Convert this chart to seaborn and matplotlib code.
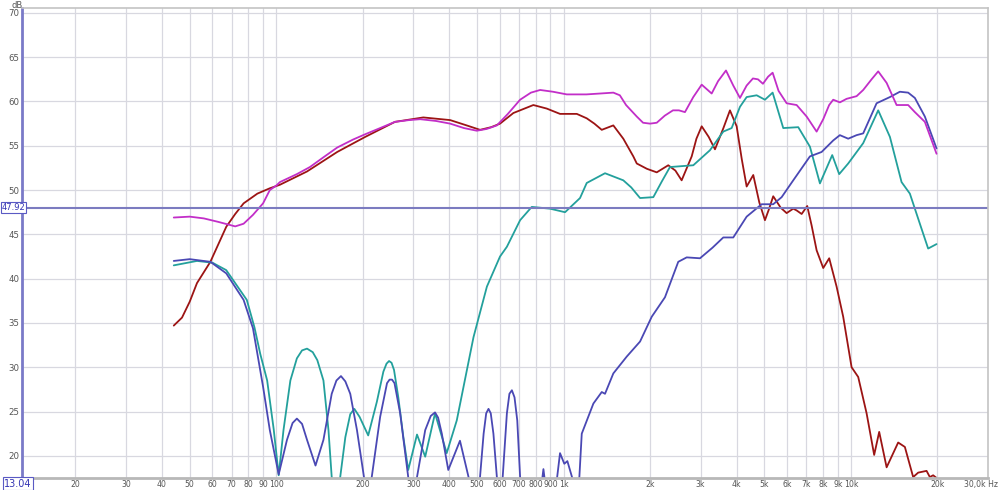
import numpy as np
import pandas as pd
import matplotlib
matplotlib.use('Agg')
import matplotlib.pyplot as plt
import matplotlib.transforms as mtransforms
from matplotlib.ticker import FixedLocator, NullLocator
import seaborn as sns

# Frequency (Hz) and level (dB) per curve
sum_f = [44, 50, 56, 63, 72, 77, 83, 90, 95, 100, 103, 118, 131, 146, 163, 185, 204, 230, 259, 290,
         317, 360, 403, 450, 499, 540, 586, 640, 706, 770, 829, 919, 1026, 1200, 1340, 1490, 1570, 1650,
         1798, 1891, 2000, 2110, 2250, 2403, 2520, 2645, 2828, 3025, 3277, 3450, 3675, 3896, 4111, 4337,
         4561, 4750, 4942, 5150, 5341, 5600, 5975, 6474, 7014, 7598, 8011, 8400, 8678, 9155, 9661,
         10466, 11036, 11800, 12446, 13314, 14421, 15823, 16695, 18088, 19862]
sum_db = [46.9, 47.0, 46.8, 46.4, 45.9, 46.2, 47.2, 48.5, 50.0, 50.5, 50.9, 51.8, 52.6, 53.7, 54.8, 55.7,
          56.3, 57.0, 57.7, 57.9, 58.0, 57.8, 57.5, 57.0, 56.7, 56.9, 57.3, 58.6, 60.2, 61.0, 61.3, 61.1,
          60.8, 60.8, 60.9, 61.0, 60.7, 59.6, 58.3, 57.6, 57.5, 57.6, 58.4, 59.0, 59.0, 58.8, 60.5, 61.9,
          60.9, 62.3, 63.5, 61.8, 60.4, 61.8, 62.6, 62.5, 62.0, 62.8, 63.25, 61.2, 59.8, 59.6, 58.3, 56.6,
          58.0, 59.6, 60.2, 59.9, 60.3, 60.6, 61.3, 62.5, 63.4, 62.1, 59.6, 59.6, 58.8, 57.7, 54.1]

woofer_f = [44, 47, 50, 53, 59, 67, 72, 77, 86, 95, 103, 128, 163, 204, 259, 325, 403, 460, 512, 560,
            601, 669, 785, 874, 972, 1112, 1204, 1280, 1358, 1490, 1614, 1749, 1798, 1950, 2110, 2314,
            2450, 2576, 2792, 2900, 3025, 3200, 3365, 3600, 3794, 4003, 4170, 4337, 4573, 4800, 5022,
            5180, 5366, 5700, 5975, 6300, 6474, 6739, 7047, 7300, 7598, 8011, 8404, 8917, 9401, 10055,
            10602, 11340, 12050, 12545, 13314, 14605, 15410, 16470, 17143, 18336, 18826, 19330, 19862]
woofer_db = [34.7, 35.6, 37.4, 39.5, 41.9, 45.85, 47.3, 48.5, 49.6, 50.2, 50.6, 52.1, 54.3, 56.0, 57.7,
             58.2, 57.9, 57.3, 56.8, 57.1, 57.5, 58.7, 59.6, 59.2, 58.6, 58.6, 58.1, 57.5, 56.8, 57.3,
             55.8, 53.8, 53.0, 52.4, 52.0, 52.8, 52.2, 51.1, 53.8, 55.8, 57.2, 56.0, 54.6, 57.0, 59.0,
             57.2, 53.5, 50.4, 51.7, 48.6, 46.6, 47.8, 49.3, 48.0, 47.4, 47.9, 47.7, 47.3, 48.2, 46.0,
             43.2, 41.2, 42.3, 39.1, 35.7, 30.0, 28.9, 24.8, 20.1, 22.7, 18.7, 21.5, 21.0, 17.6, 18.1,
             18.3, 17.6, 17.8, 17.5]

mid_f = [44, 53, 60, 67, 79, 84, 88, 93, 98, 102, 106, 112, 118, 123, 128, 134, 139, 146, 152, 156,
         162, 167, 174, 181, 187, 195, 209, 224, 236, 242, 247, 252, 257, 266, 277, 288, 309, 330, 357,
         392, 425, 461, 486, 541, 601, 635, 706, 775, 897, 1012, 1141, 1204, 1394, 1614, 1720, 1846,
         2053, 2200, 2346, 2828, 3233, 3596, 3846, 4111, 4337, 4699, 5022, 5341, 5815, 6558, 7201,
         7802, 8610, 9104, 9786, 11036, 12446, 13671, 15007, 16040, 17378, 18570, 19862]
mid_db = [41.5, 42.0, 41.8, 40.96, 37.6, 34.5, 31.5, 28.5, 23.0, 17.8, 22.9, 28.5, 31.0, 31.9, 32.1,
          31.7, 30.8, 28.5, 22.9, 17.6, 12.0, 17.6, 22.1, 24.7, 25.3, 24.4, 22.3, 26.1, 29.5, 30.4,
          30.7, 30.5, 29.7, 26.6, 22.1, 18.4, 22.4, 19.9, 24.8, 20.3, 24.0, 29.7, 33.4, 39.1, 42.5,
          43.6, 46.6, 48.1, 47.9, 47.5, 49.1, 50.8, 51.9, 51.1, 50.3, 49.1, 49.2, 51.0, 52.6, 52.8,
          54.5, 56.6, 57.0, 59.4, 60.5, 60.7, 60.2, 61.0, 57.0, 57.1, 54.9, 50.75, 53.95, 51.8, 53.0,
          55.3, 59.0, 56.0, 50.9, 49.6, 46.2, 43.4, 43.9]

tweeter_f = [44, 50, 59, 67, 77, 83, 90, 95, 102, 109, 114, 118, 123, 128, 137, 146, 156, 162, 168,
             174, 181, 191, 202, 208, 215, 230, 243, 248, 253, 258, 270, 288, 298, 309, 330, 345, 357,
             366, 377, 397, 436, 467, 488, 512, 527, 538, 548, 558, 570, 586, 600, 614, 635, 648, 661,
             675, 690, 706, 780, 840, 851, 862, 905, 950, 972, 1006, 1031, 1070, 1112, 1135, 1157,
             1270, 1358, 1394, 1490, 1659, 1846, 2027, 2254, 2507, 2682, 2984, 3300, 3596, 3896, 4337,
             4891, 5366, 5741, 6300, 7201, 7908, 8678, 9155, 9786, 10466, 11036, 12286, 13671, 14804,
             15823, 16695, 18088, 19862]
tweeter_db = [42.0, 42.2, 41.9, 40.6, 37.6, 34.4, 27.8, 22.9, 17.9, 21.8, 23.7, 24.2, 23.6, 21.8, 18.9,
              21.8, 27.0, 28.5, 29.0, 28.4, 27.0, 22.9, 17.6, 12.0, 17.6, 24.4, 28.2, 28.6, 28.6, 28.2,
              24.8, 17.6, 12.0, 17.6, 22.9, 24.5, 24.9, 24.3, 22.5, 18.4, 21.7, 17.6, 12.0, 17.6, 22.5,
              24.8, 25.3, 24.8, 22.5, 17.6, 12.0, 17.6, 24.8, 27.0, 27.4, 26.6, 24.0, 17.6, 10.0, 17.0,
              18.5, 17.0, 10.0, 17.6, 20.3, 19.1, 19.4, 17.6, 15.0, 17.6, 22.5, 25.9, 27.2, 27.0, 29.3,
              31.2, 32.9, 35.7, 37.9, 41.9, 42.4, 42.3, 43.5, 44.65, 44.65, 47.0, 48.4, 48.4, 49.2, 51.1,
              53.8, 54.3, 55.6, 56.2, 55.8, 56.2, 56.4, 59.8, 60.5, 61.1, 61.0, 60.4, 58.3, 54.7]

x_ticks = [20, 30, 40, 50, 60, 70, 80, 90, 100, 200, 300, 400, 500, 600, 700, 800, 900,
           1000, 2000, 3000, 4000, 5000, 6000, 7000, 8000, 9000, 10000, 20000, 30000]
x_labels = ['20', '30', '40', '50', '60', '70', '80', '90', '100', '200', '300', '400', '500', '600',
            '700', '800', '900', '1k', '2k', '3k', '4k', '5k', '6k', '7k', '8k', '9k', '10k', '20k',
            '30,0k Hz']
y_ticks = [20, 25, 30, 35, 40, 45, 50, 55, 60, 65, 70]
cursor_x = 13.04
cursor_y = 47.92

sns.set_style('white')
plt.rcParams['font.family'] = ['DejaVu Sans']

fig = plt.figure(figsize=(10, 4.9), dpi=100)
ax = fig.add_axes([0.022, 0.0255, 0.966, 0.959])

curves = [
    (woofer_f, woofer_db, '#9c1414'),
    (mid_f, mid_db, '#23a09c'),
    (tweeter_f, tweeter_db, '#4a48b4'),
    (sum_f, sum_db, '#c22ec8'),
]
for f, db, col in curves:
    df = pd.DataFrame({'Hz': f, 'dB': db})
    sns.lineplot(data=df, x='Hz', y='dB', ax=ax, color=col, lw=1.3,
                 sort=False, estimator=None, legend=False)

ax.set_xscale('log')
ax.set_xlim(cursor_x, 30000)
ax.set_ylim(17.55, 70.6)
ax.xaxis.set_major_locator(FixedLocator(x_ticks))
ax.xaxis.set_minor_locator(NullLocator())
ax.set_xticklabels(x_labels)
ax.set_yticks(y_ticks)
ax.set_yticklabels([str(v) for v in y_ticks])
ax.set_xlabel('')
ax.set_ylabel('')
ax.grid(True, color='#d8d8e0', lw=0.9)
ax.set_axisbelow(True)
ax.tick_params(length=0, colors='#555555', pad=2)
ax.tick_params(axis='x', labelsize=5.6)
ax.tick_params(axis='y', labelsize=6.2)

# last x label sits left of the right edge
last = ax.get_xticklabels()[-1]
last.set_horizontalalignment('right')
last.set_transform(last.get_transform() + mtransforms.ScaledTranslation(0.1, 0, fig.dpi_scale_trans))

for side in ['top', 'right']:
    ax.spines[side].set_color('#c4c4c4')
    ax.spines[side].set_linewidth(1.2)
ax.spines['bottom'].set_color('#b8b8b8')
ax.spines['bottom'].set_linewidth(2)
ax.spines['left'].set_color('#7a7ac8')
ax.spines['left'].set_linewidth(2)

# cursor line and its readouts
ax.axhline(cursor_y, color='#7b7bc0', lw=1.5)
fig.text(0.0015, (490 - 208) / 490, f'{cursor_y:.2f}', fontsize=6.0, color='#3434b4',
         ha='left', va='center',
         bbox=dict(boxstyle='square,pad=0.12', fc='white', ec='#5a5ac4', lw=0.8))
fig.text(0.004, (490 - 483.5) / 490, f'{cursor_x:.2f}', fontsize=7.0, color='#3434b4',
         ha='left', va='center',
         bbox=dict(boxstyle='square,pad=0.12', fc='white', ec='#5a5ac4', lw=0.8))
fig.text(0.012, (490 - 5) / 490, 'dB', fontsize=6.0, color='#555555', ha='left', va='center')

fig.savefig('out.png', dpi=100)
